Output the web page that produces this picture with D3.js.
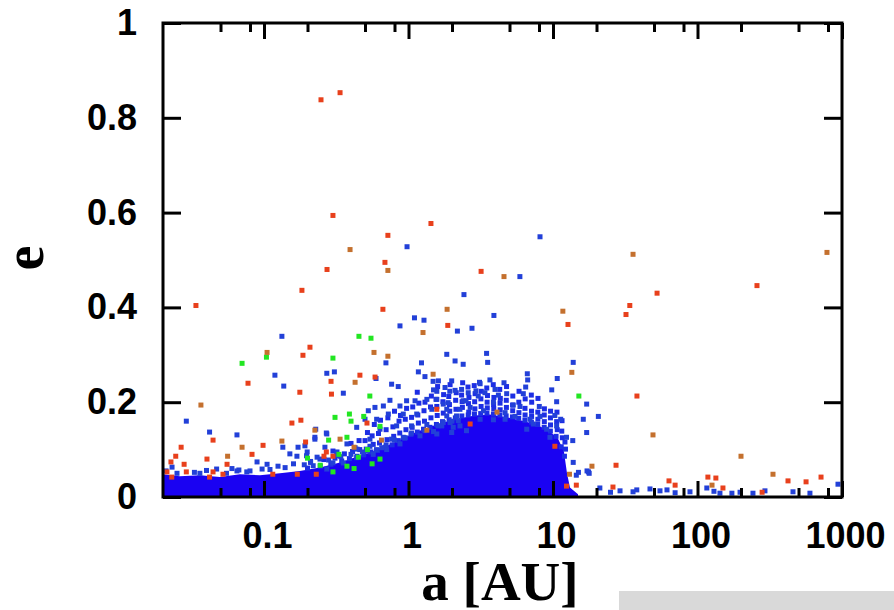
<!DOCTYPE html>
<html><head><meta charset="utf-8">
<script src="https://cdn.jsdelivr.net/npm/d3@7"></script>
<style>body{margin:0;background:#fff}svg{display:block}</style>
</head><body>
<svg id="chart" width="894" height="610"></svg>
<script>
// ---------- data ----------
const xDomain = [0.02, 1000];
const yDomain = [0, 1];
const xMajorTicks = [0.1, 1, 10, 100, 1000];
const xTickLabels = ["0.1", "1", "10", "100", "1000"];
const xMinorTicks = [0.05, 0.08, 0.2, 0.5, 0.8, 2, 5, 8, 20, 50, 80, 200, 500, 800];
const yTicks = [0, 0.2, 0.4, 0.6, 0.8, 1];
const yTickLabels = ["0", "0.2", "0.4", "0.6", "0.8", "1"];
const xLabel = "a [AU]";
const yLabel = "e";

// upper edge [a, e] of the saturated (solid) part of the blue population
const blueCore = [[0.02,0.048],[0.0262,0.044],[0.036,0.046],[0.0495,0.042],[0.0682,0.048],[0.0938,0.046],
 [0.129,0.05],[0.177,0.055],[0.244,0.062],[0.336,0.073],[0.427,0.084],[0.542,0.094],[0.687,0.106],
 [0.873,0.121],[1.11,0.136],[1.41,0.148],[1.79,0.158],[2.27,0.166],[2.88,0.172],[3.66,0.174],[4.65,0.169],
 [5.91,0.162],[7.5,0.154],[9.23,0.141],[10.8,0.124],[11.9,0.096],[12.5,0.05],[13.1,0.02],[14.9,0.006]];

// individually visible blue points [a, e]
const bluePoints = [
 [8.13,0.549],[0.977,0.528],[5.9,0.465],[2.42,0.427],[3.9,0.383],[1.1,0.378],[1.28,0.373],[0.873,0.361],
 [2.18,0.35],[2.75,0.356],[0.133,0.339],[1.84,0.301],[2.1,0.287],[2.39,0.28],[0.698,0.283],[3.47,0.303],
 [3.53,0.284],[13.8,0.284],[0.272,0.261],[0.307,0.264],[0.354,0.219],[0.596,0.25],[1.23,0.283],[1.17,0.264],
 [1.3,0.254],[1.61,0.245],[1.99,0.245],[0.764,0.238],[0.849,0.233],[1.49,0.226],[1.79,0.231],[2.33,0.227],
 [6.64,0.26],[10.7,0.25],[6.68,0.247],[3.13,0.239],[3.66,0.247],[4.58,0.241],[6.47,0.232],[9.8,0.226],
 [2.1,0.225],[2.59,0.22],[2.93,0.224],[3.97,0.227],[4.78,0.218],[6.23,0.218],[1.74,0.196],[2.5,0.203],
 [3.04,0.213],[3.38,0.22],[4.19,0.215],[5.31,0.194],[5.91,0.191],[8.04,0.191],[10.6,0.201],[17.1,0.196],
 [20.6,0.17],[16.2,0.164],[17.1,0.136],[10.3,0.172],[11.3,0.164],[8.13,0.17],[6.93,0.164],[1.84,0.171],
 [2.15,0.171],[2.67,0.189],[3.3,0.182],[3.87,0.2],[4.66,0.178],[5.46,0.17],[7.31,0.154],[9.04,0.143],
 [10.6,0.15],[12.4,0.126],[13.7,0.119],[9.53,0.126],[6.58,0.143],[4.66,0.164],[3.87,0.163],[3.13,0.164],
 [2.27,0.15],[1.94,0.157],[1.7,0.15],[13.8,0.073],[15,0.052],[17.6,0.053],[0.119,0.257],[0.137,0.234],
 [1.48,0.244],[1.93,0.223],[1.57,0.223],[0.029,0.16],[0.042,0.137],[0.065,0.131],[0.135,0.105],[0.172,0.105],
 [0.225,0.122],[0.27,0.135],[1.34,0.206],[1.11,0.203],[0.97,0.203],[0.744,0.204],[0.67,0.192],[0.527,0.182],
 [0.586,0.189],[0.873,0.192],[1.57,0.206],[1.88,0.199],[2.39,0.203],[2.27,0.185],[1.84,0.185],[1.45,0.185],
 [1.14,0.175],[0.92,0.175],[0.725,0.175],[0.602,0.164],[0.5,0.164],[0.272,0.133],[0.228,0.143],[0.225,0.126],
 [0.438,0.147],[0.635,0.143],[0.828,0.15],[1.05,0.15],[1.34,0.153],[1.74,0.157],[2.21,0.161],[2.52,0.14],
 [1.99,0.136],[1.57,0.133],[1.2,0.129],[0.92,0.126],[0.764,0.122],[0.541,0.122],[0.427,0.104],[0.192,0.108],
 [0.197,0.087],[0.244,0.08],[0.318,0.087],[0.513,0.097],[0.652,0.104],[0.873,0.112],[1.49,0.138],[2.04,0.147],
 [0.219,0.066],[0.272,0.059],[0.354,0.072],[0.438,0.083],[0.57,0.09],[0.706,0.1],[0.0231,0.063],[0.065,0.055],
 [0.0895,0.074],[0.105,0.069],[0.125,0.065],[0.151,0.091],[0.169,0.086],[0.199,0.095],[0.233,0.084],[0.264,0.105],
 [0.32,0.095],[0.375,0.112],[0.44,0.101],[0.541,0.107],[0.067,0.057],[0.076,0.053],[0.097,0.059],[0.036,0.05],
 [0.047,0.059],[0.021,0.055],[0.025,0.05],[0.033,0.052],[0.04,0.056],[0.055,0.05],[0.06,0.06],[0.08,0.055],
 [0.11,0.058],[0.14,0.062],[0.16,0.07],[0.19,0.068],[0.21,0.075],[0.28,0.078],[0.3,0.072],[0.34,0.085],
 [0.4,0.09],[0.48,0.095],[0.6,0.1],[0.7,0.11],[0.8,0.12],[0.95,0.125],[1.05,0.135],[1.3,0.14],[1.6,0.15],
 [2.0,0.16],[3.1,0.242],[17.2,0.055],[17.8,0.05],[14.5,0.046],
 [21.1,0.019],[29.1,0.013],[35.8,0.011],[46.9,0.017],[55,0.013],[61.5,0.015],[88.7,0.011],[116,0.019],
 [143,0.008],[173,0.008],[197,0.01],[242,0.008],[293,0.013],[458,0.011],[938,0.027],[25,0.01],[38,0.015],
 [70,0.009],[130,0.012],[600,0.008]];

// crowded blue points just above the solid core [a, e]
const blueCrowd = [
 [0.2,0.061],[0.21,0.073],[0.245,0.065],[0.26,0.079],[0.29,0.069],[0.31,0.082],[0.3,0.097],[0.345,0.076],
 [0.36,0.091],[0.39,0.081],[0.41,0.096],[0.4,0.113],[0.44,0.086],[0.46,0.1],[0.455,0.119],
 [0.49,0.089],[0.51,0.101],[0.5,0.119],[0.52,0.136],[0.55,0.095],[0.57,0.111],[0.56,0.129],[0.58,0.153],
 [0.61,0.098],[0.63,0.114],[0.62,0.134],[0.64,0.162],[0.69,0.105],[0.71,0.121],[0.7,0.142],[0.72,0.167],
 [0.77,0.11],[0.79,0.128],[0.78,0.148],[0.8,0.181],[0.85,0.119],[0.87,0.135],[0.86,0.16],[0.88,0.172],
 [0.94,0.124],[0.96,0.142],[0.95,0.164],[0.97,0.187],[1.04,0.132],[1.06,0.147],[1.05,0.168],[1.07,0.19],
 [1.15,0.137],[1.17,0.156],[1.16,0.173],[1.18,0.198],[1.15,0.221],[1.27,0.143],[1.29,0.16],[1.28,0.182],
 [1.3,0.2],[1.41,0.147],[1.43,0.167],[1.42,0.19],[1.44,0.213],[1.56,0.153],[1.58,0.172],[1.57,0.191],
 [1.55,0.206],[1.59,0.233],[1.72,0.159],[1.74,0.177],[1.73,0.201],[1.75,0.216],[1.91,0.163],[1.93,0.181],
 [1.92,0.195],[1.9,0.212],[1.94,0.237],[2.11,0.167],[2.13,0.185],[2.12,0.204],[2.14,0.22],[2.34,0.171],
 [2.36,0.189],[2.35,0.201],[2.33,0.215],[2.37,0.241],[2.59,0.173],[2.61,0.179],[2.6,0.197],[2.62,0.21],
 [2.58,0.232],[2.86,0.175],[2.88,0.186],[2.87,0.201],[2.89,0.218],[2.85,0.235],[3.16,0.176],[3.18,0.191],
 [3.17,0.207],[3.19,0.223],[3.49,0.177],[3.51,0.188],[3.5,0.2],[3.52,0.214],[3.48,0.23],[3.87,0.175],
 [3.89,0.186],[3.88,0.195],[3.9,0.21],[3.86,0.237],[4.29,0.173],[4.31,0.184],[4.3,0.198],[4.32,0.208],
 [4.28,0.227],[4.74,0.171],[4.76,0.189],[4.75,0.204],[4.77,0.233],[5.24,0.169],[5.26,0.182],[5.25,0.194],
 [5.27,0.213],[5.79,0.166],[5.81,0.178],[5.8,0.2],[5.82,0.223],[6.39,0.162],[6.41,0.173],[6.4,0.187],
 [6.42,0.207],[7.09,0.158],[7.11,0.17],[7.1,0.181],[7.12,0.2],[7.08,0.215],[7.84,0.153],[7.86,0.164],
 [7.85,0.179],[7.87,0.208],[8.69,0.147],[8.71,0.159],[8.7,0.173],[8.72,0.186],[9.59,0.139],[9.61,0.152],
 [9.6,0.167],[9.62,0.181],[10.5,0.128],[10.7,0.142],[10.6,0.159],[10.65,0.179],[11.4,0.106],[11.6,0.125],
 [11.5,0.139],[11.55,0.161],[12.0,0.086],[12.2,0.101],[12.1,0.116]];

// green population [a, e]
const greenPoints = [[0.0705,0.282],[0.104,0.295],[0.3,0.293],[0.454,0.339],[0.55,0.335],[0.54,0.213],
 [0.31,0.168],[0.39,0.175],[0.4,0.16],[0.49,0.17],[0.28,0.12],[0.375,0.126],[0.45,0.084],[0.2,0.082],
 [0.245,0.067],[0.3,0.053],[0.375,0.065],[0.52,0.1],[0.635,0.149],[0.635,0.08],[15.1,0.213],[0.33,0.09],
 [0.42,0.06],[0.56,0.07]];

// red population [a, e]
const redPoints = [[0.248,0.838],[0.336,0.853],[0.30,0.594],[1.43,0.577],[0.72,0.552],[0.687,0.495],
 [0.273,0.48],[3.18,0.476],[258,0.446],[52.5,0.43],[34,0.404],[32,0.385],[0.183,0.436],[0.0338,0.404],
 [1.87,0.362],[12.7,0.364],[0.665,0.396],[0.208,0.316],[0.186,0.299],[0.0775,0.24],[0.177,0.221],
 [0.291,0.244],[0.293,0.217],[0.461,0.257],[0.587,0.253],[0.156,0.156],[0.18,0.162],[0.0444,0.12],
 [0.0985,0.109],[0.194,0.116],[0.0267,0.105],[0.0245,0.086],[0.0227,0.074],[0.028,0.069],[0.0403,0.08],
 [0.0555,0.069],[0.0826,0.09],[0.0213,0.053],[0.029,0.053],[0.023,0.042],[0.0444,0.053],[0.042,0.042],
 [0.052,0.048],[0.27,0.095],[0.26,0.086],[0.3,0.086],[0.516,0.156],[1.57,0.185],[0.115,0.048],[0.17,0.048],
 [0.23,0.048],[2.67,0.154],[10.3,0.107],[38.1,0.213],[27.3,0.067],[26,0.021],[14.5,0.025],[12.4,0.023],
 [423,0.034],[564,0.032],[716,0.042],[118,0.042],[134,0.04],[63.5,0.034],[70,0.025],[150,0.019],[280,0.01]];

// brown/orange population [a, e]
const brownPoints = [[0.394,0.522],[0.72,0.478],[35.8,0.512],[787,0.516],[4.58,0.465],[1.85,0.396],
 [11.7,0.392],[1.26,0.347],[0.105,0.305],[0.577,0.305],[0.72,0.297],[0.427,0.242],[1.48,0.259],
 [0.0366,0.194],[0.225,0.141],[0.0705,0.105],[0.133,0.118],[0.056,0.086],[0.336,0.122],[0.42,0.105],
 [0.65,0.12],[1.34,0.141],[4.1,0.179],[13.5,0.263],[18.6,0.065],[13,0.048],[49.2,0.131],[200,0.086],
 [333,0.048],[126,0.025]];

// ---------- drawing ----------
const L = 163, R = 842, T = 23, B = 497;
const svg = d3.select("#chart");
const x = d3.scaleLog().domain(xDomain).range([L, R]);
const y = d3.scaleLinear().domain(yDomain).range([B, T]);

const defs = svg.append("defs");
defs.append("clipPath").attr("id", "plotclip").append("rect")
  .attr("x", L).attr("y", T).attr("width", R - L).attr("height", B - T);
defs.append("filter").attr("id", "soft").attr("x", "-20%").attr("y", "-20%").attr("width", "140%").attr("height", "140%")
  .append("feGaussianBlur").attr("stdDeviation", 0.55);

const plot = svg.append("g").attr("clip-path", "url(#plotclip)");

// solid blue core
plot.append("path")
  .datum(blueCore)
  .attr("fill", "#1a02f2")
  .attr("d", d3.area().x(d => x(d[0])).y0(y(0)).y1(d => y(d[1])).curve(d3.curveLinear));

const pts = plot.append("g").attr("filter", "url(#soft)");
function drawPts(data, color, size) {
  pts.append("g").selectAll("rect").data(data).join("rect")
    .attr("x", d => x(d[0]) - size / 2).attr("y", d => y(d[1]) - size / 2)
    .attr("width", size).attr("height", size).attr("fill", color);
}
drawPts(blueCrowd, "#1f2ee4", 5);
drawPts(bluePoints, "#2340d8", 5);
drawPts(greenPoints, "#22e622", 5);
drawPts(brownPoints, "#c4702e", 5);
drawPts(redPoints, "#e8401c", 5);

// axes (ticks point inward)
const tickStyle = g => {
  g.select(".domain").remove();
  g.selectAll(".tick line").attr("stroke", "#000").attr("stroke-width", 3);
  g.selectAll("text").attr("font-family", "'Liberation Sans', Arial, sans-serif")
    .attr("font-weight", "bold").attr("font-size", 36).attr("fill", "#000");
};
svg.append("g").attr("transform", `translate(${L},0)`)
  .call(d3.axisLeft(y).tickValues(yTicks).tickSizeInner(-18).tickSizeOuter(0).tickPadding(26)
    .tickFormat((d, i) => yTickLabels[i])).call(tickStyle);
svg.append("g").attr("transform", `translate(${R},0)`)
  .call(d3.axisRight(y).tickValues(yTicks).tickSizeInner(-18).tickSizeOuter(0).tickFormat(""))
  .call(tickStyle);
svg.append("g").attr("transform", `translate(0,${B})`)
  .call(d3.axisBottom(x).tickValues(xMajorTicks).tickSizeInner(-16).tickSizeOuter(0).tickPadding(25)
    .tickFormat((d, i) => xTickLabels[i])).call(tickStyle)
  .selectAll("text").attr("dx", 3);
svg.append("g").attr("transform", `translate(0,${B})`)
  .call(d3.axisBottom(x).tickValues(xMinorTicks).tickSizeInner(-9).tickSizeOuter(0).tickFormat(""))
  .call(tickStyle);
svg.append("g").attr("transform", `translate(0,${T})`)
  .call(d3.axisTop(x).tickValues(xMajorTicks).tickSizeInner(-16).tickSizeOuter(0).tickFormat(""))
  .call(tickStyle);
svg.append("g").attr("transform", `translate(0,${T})`)
  .call(d3.axisTop(x).tickValues(xMinorTicks).tickSizeInner(-9).tickSizeOuter(0).tickFormat(""))
  .call(tickStyle);

// frame
svg.append("rect").attr("x", L).attr("y", T).attr("width", R - L).attr("height", B - T)
  .attr("fill", "none").attr("stroke", "#000").attr("stroke-width", 3);

// axis titles
svg.append("text").attr("x", 500).attr("y", 600).attr("text-anchor", "middle")
  .attr("font-family", "'Liberation Serif', 'Times New Roman', serif").attr("font-weight", "bold")
  .attr("font-size", 55).text(xLabel);
svg.append("text").attr("transform", "translate(43,258) rotate(-90)").attr("text-anchor", "middle")
  .attr("font-family", "'Liberation Serif', 'Times New Roman', serif").attr("font-weight", "bold")
  .attr("font-size", 56).text(yLabel);

// grey band at lower right (part of the source page)
svg.append("rect").attr("x", 619).attr("y", 591).attr("width", 275).attr("height", 19).attr("fill", "#d9d9d9");
</script>
</body></html>
